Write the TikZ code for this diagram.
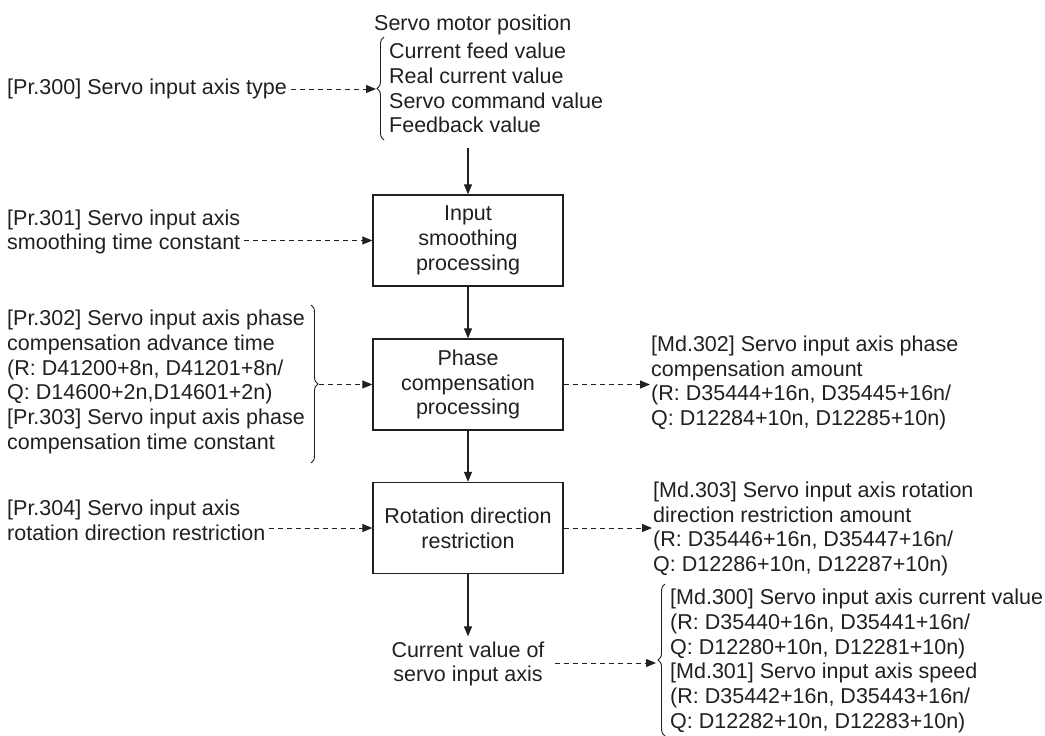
\documentclass[tikz,border=0pt]{standalone}
\usepackage{fontspec}
\setmainfont{Liberation Sans}
\usetikzlibrary{arrows.meta,decorations.pathreplacing,calc}
\definecolor{ink}{RGB}{35,31,32}
\begin{document}
\begin{tikzpicture}[x=1pt,y=-1pt,
  font=\fontsize{21.5}{24.8}\selectfont,
  every node/.style={text=ink, inner sep=0pt},
  txt/.style={align=left, anchor=west},
  procbox/.style={draw=ink, line width=1.3pt, minimum width=190pt, minimum height=91pt, align=center},
  flow/.style={draw=ink, line width=1.2pt, -{Triangle[length=10pt,width=8pt]}},
  dasharrow/.style={draw=ink, line width=1pt, dash pattern=on 5pt off 4pt, -{Triangle[length=10pt,width=8pt]}},
  bracestyle/.style={draw=ink, line width=0.9pt, decorate, decoration={brace, amplitude=7pt}}]
\useasboundingbox (0,0) rectangle (1045,736);

% top block
\node[txt] (smp) at (374,25) {Servo motor position};
\node[txt] (smlist) at (389,88) {Current feed value\\Real current value\\Servo command value\\Feedback value};
\draw[bracestyle] (384,140) -- (384,37);
\coordinate (topbr) at (376,89);
\coordinate (topout) at (468,148);

% boxes
\node[procbox] (b1) at (468,240.5) {Input\\smoothing\\processing};
\node[procbox] (b2) at (468,384.5) {Phase\\compensation\\processing};
\node[procbox] (b3) at (468,528) {Rotation direction\\restriction};
\node[align=center] (cur) at (468,664) {Current value of\\servo input axis};

% left texts
\node[txt] (pr300) at (7,89) {[Pr.300] Servo input axis type};
\node[txt] (pr301) at (7,232) {[Pr.301] Servo input axis\\smoothing time constant};
\node[txt] (pr302) at (7,382) {[Pr.302] Servo input axis phase\\compensation advance time\\(R: D41200+8n, D41201+8n/\\Q: D14600+2n,D14601+2n)\\{}[Pr.303] Servo input axis phase\\compensation time constant};
\node[txt] (pr304) at (7,520) {[Pr.304] Servo input axis\\rotation direction restriction};
\draw[bracestyle] (311,305) -- (311,463);
\coordinate (midbr) at (319,384.5);

% right texts
\node[txt] (md302) at (651,383) {[Md.302] Servo input axis phase\\compensation amount\\(R: D35444+16n, D35445+16n/\\Q: D12284+10n, D12285+10n)};
\node[txt] (md303) at (653,529) {[Md.303] Servo input axis rotation\\direction restriction amount\\(R: D35446+16n, D35447+16n/\\Q: D12286+10n, D12287+10n)};
\node[txt] (md300) at (670,661) {[Md.300] Servo input axis current value\\(R: D35440+16n, D35441+16n/\\Q: D12280+10n, D12281+10n)\\{}[Md.301] Servo input axis speed\\(R: D35442+16n, D35443+16n/\\Q: D12282+10n, D12283+10n)};
\draw[bracestyle] (665,736) -- (665,584);
\coordinate (botbr) at (656,663);

% solid flow arrows
\draw[flow] (topout) -- (b1.north);
\draw[flow] (b1.south) -- (b2.north);
\draw[flow] (b2.south) -- (b3.north);
\draw[flow] (b3.south) -- ([yshift=5pt]cur.north);

% dashed arrows
\draw[dasharrow] ([xshift=4pt]pr300.east) -- (topbr);
\draw[dasharrow] ([xshift=4pt]pr301.east |- b1.west) -- (b1.west);
\draw[dasharrow] (midbr) -- (b2.west);
\draw[dasharrow] ([xshift=3pt]pr304.east |- b3.west) -- (b3.west);
\draw[dasharrow] (b2.east) -- ([xshift=-1pt]md302.west |- b2.east);
\draw[dasharrow] (b3.east) -- ([xshift=-1pt]md303.west |- b3.east);
\draw[dasharrow] ([xshift=10pt]cur.east |- botbr) -- (botbr);
\end{tikzpicture}
\end{document}
